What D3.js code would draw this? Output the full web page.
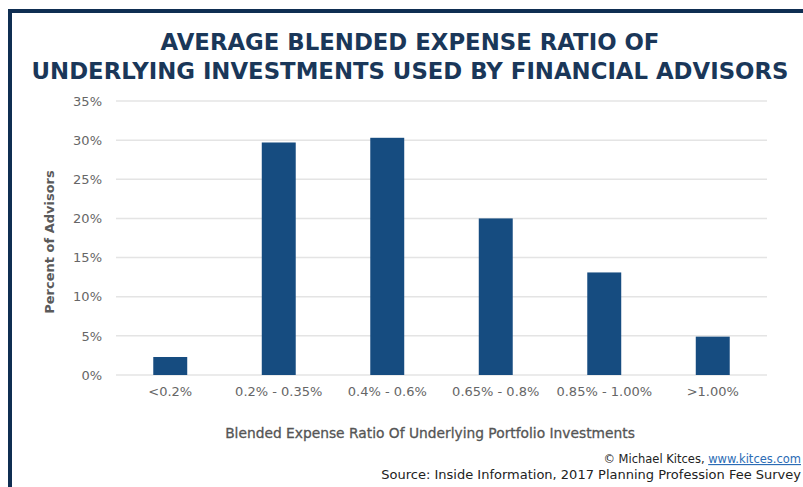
<!DOCTYPE html>
<html>
<head>
<meta charset="utf-8">
<script src="https://cdn.jsdelivr.net/npm/d3@7"></script>
<style>
  body { margin: 0; background: #fff; }
  svg text { font-family: "DejaVu Sans", sans-serif; }
</style>
</head>
<body>
<div id="chart"></div>
<script>
// data
const categories = ['<0.2%', '0.2% - 0.35%', '0.4% - 0.6%', '0.65% - 0.8%', '0.85% - 1.00%', '>1.00%']
const values = [2.3, 29.7, 30.3, 20.0, 13.1, 4.9]
const yTicks = [0, 5, 10, 15, 20, 25, 30, 35]
const titleLines = ['AVERAGE BLENDED EXPENSE RATIO OF', 'UNDERLYING INVESTMENTS USED BY FINANCIAL ADVISORS']

const width = 803, height = 487
const margin = { top: 101, right: 36, bottom: 112, left: 116 }

const svg = d3.select('#chart').append('svg')
  .attr('width', width)
  .attr('height', height)

// navy frame, open on right and bottom
svg.append('rect').attr('x', 8).attr('y', 9).attr('width', width - 8).attr('height', 4).attr('fill', '#0f2e52')
svg.append('rect').attr('x', 8).attr('y', 9).attr('width', 4).attr('height', height - 9).attr('fill', '#0f2e52')

svg.selectAll('.title')
  .data(titleLines)
  .join('text')
  .attr('class', 'title')
  .attr('x', 410)
  .attr('y', (d, i) => 50 + i * 29)
  .attr('text-anchor', 'middle')
  .attr('fill', '#1a3759')
  .attr('font-size', 22.8)
  .attr('font-weight', 'bold')
  .text(d => d)

const x = d3.scaleBand()
  .domain(categories)
  .range([margin.left, width - margin.right])
  .paddingInner(0.687)
  .paddingOuter(0.3435)

const y = d3.scaleLinear()
  .domain([0, 35])
  .range([height - margin.bottom, margin.top])

// gridlines
svg.append('g')
  .selectAll('line')
  .data(yTicks)
  .join('line')
  .attr('x1', margin.left)
  .attr('x2', width - margin.right)
  .attr('y1', d => y(d))
  .attr('y2', d => y(d))
  .attr('stroke', '#e4e4e4')
  .attr('stroke-width', 1.5)

const yAxis = svg.append('g')
  .attr('transform', `translate(${margin.left - 14},0)`)
  .call(d3.axisLeft(y).tickValues(yTicks).tickFormat(d => d + '%').tickSize(0).tickPadding(0))
yAxis.select('.domain').remove()
yAxis.selectAll('text')
  .attr('fill', '#666')
  .attr('font-size', 13)
  .style('font-family', '"DejaVu Sans", sans-serif')

svg.append('g')
  .selectAll('rect')
  .data(values)
  .join('rect')
  .attr('x', (d, i) => x(categories[i]))
  .attr('width', x.bandwidth())
  .attr('y', d => y(d))
  .attr('height', d => y(0) - y(d))
  .attr('fill', '#164c80')

const xAxis = svg.append('g')
  .attr('transform', `translate(0,${height - margin.bottom})`)
  .call(d3.axisBottom(x).tickSize(0).tickPadding(12))
xAxis.select('.domain').remove()
xAxis.selectAll('text')
  .attr('fill', '#666')
  .attr('font-size', 13)
  .style('font-family', '"DejaVu Sans", sans-serif')

svg.append('text')
  .attr('transform', 'translate(54,242) rotate(-90)')
  .attr('text-anchor', 'middle')
  .attr('fill', '#5a5a5a')
  .attr('font-size', 13)
  .attr('font-weight', 'bold')
  .text('Percent of Advisors')

svg.append('text')
  .attr('x', 430)
  .attr('y', 438)
  .attr('text-anchor', 'middle')
  .attr('fill', '#555')
  .attr('stroke', '#555')
  .attr('stroke-width', 0.3)
  .attr('font-size', 13.8)
  .text('Blended Expense Ratio Of Underlying Portfolio Investments')

const credit = svg.append('text')
  .attr('x', 801)
  .attr('y', 463)
  .attr('text-anchor', 'end')
  .attr('fill', '#222')
  .attr('font-size', 11.5)
credit.append('tspan').text('© Michael Kitces, ')
credit.append('tspan').attr('fill', '#2b6cb5').attr('text-decoration', 'underline').text('www.kitces.com')

svg.append('text')
  .attr('x', 801)
  .attr('y', 479)
  .attr('text-anchor', 'end')
  .attr('fill', '#222')
  .attr('font-size', 13)
  .text('Source: Inside Information, 2017 Planning Profession Fee Survey')
</script>
</body>
</html>
